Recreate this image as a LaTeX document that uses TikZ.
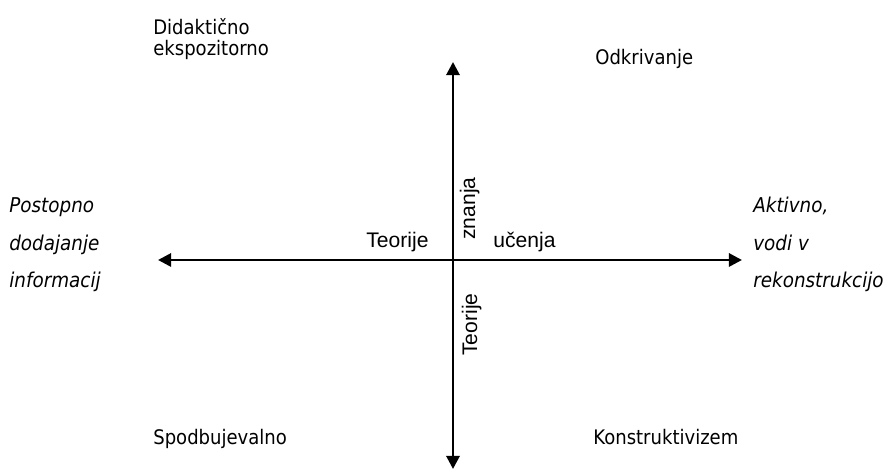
\documentclass[tikz,border=0pt]{standalone}
\usepackage{fontspec}
\usetikzlibrary{arrows.meta}
\newfontfamily\quadfont[FakeStretch=0.9]{DejaVu Sans}
\newfontfamily\axisfont{Liberation Sans}

\begin{document}
\begin{tikzpicture}[
        quad/.style={inner sep=0pt, anchor=base west, align=left, font=\quadfont\fontsize{11.4}{12}\selectfont},
        pole/.style={inner sep=0pt, anchor=base west, align=left, font=\quadfont\itshape\fontsize{11.6}{21.5}\selectfont},
        axislabel/.style={inner sep=0pt, anchor=base west, font=\axisfont\fontsize{12}{13}\selectfont},
        axis/.style={{Triangle[length=7.5pt,width=7.5pt]}-{Triangle[length=7.5pt,width=7.5pt]}, line width=1.6pt}
      ]
        \useasboundingbox (0,0) rectangle (17.74,9.42);

        % axes
        \coordinate (top) at (9.06,8.18);
        \coordinate (bottom) at (9.06,0.04);
        \coordinate (left) at (3.16,4.22);
        \coordinate (right) at (14.84,4.22);
        \draw[axis] (bottom) -- (top);
        \draw[axis] (left) -- (right);

        % quadrants
        \node[quad] (didakticno) at (3.06,8.30) {Didaktično\\ekspozitorno};
        \node[quad] (odkrivanje) at (11.90,8.13) {Odkrivanje};
        \node[quad] (spodbujevalno) at (3.06,0.52) {Spodbujevalno};
        \node[quad] (konstruktivizem) at (11.86,0.52) {Konstruktivizem};

        % poles
        \node[pole] (postopno) at (0.18,3.66) {Postopno\\dodajanje\\informacij};
        \node[pole] (aktivno) at (15.06,3.66) {Aktivno,\\vodi v\\rekonstrukcijo};

        % axis labels
        \node[axislabel] (teorijeL) at (7.32,4.46) {Teorije};
        \node[axislabel] (ucenja) at (9.86,4.46) {učenja};
        \node[axislabel, rotate=90] (znanja) at (9.50,4.62) {znanja};
        \node[axislabel, rotate=90] (teorijeD) at (9.54,2.30) {Teorije};
      \end{tikzpicture}
\end{document}
